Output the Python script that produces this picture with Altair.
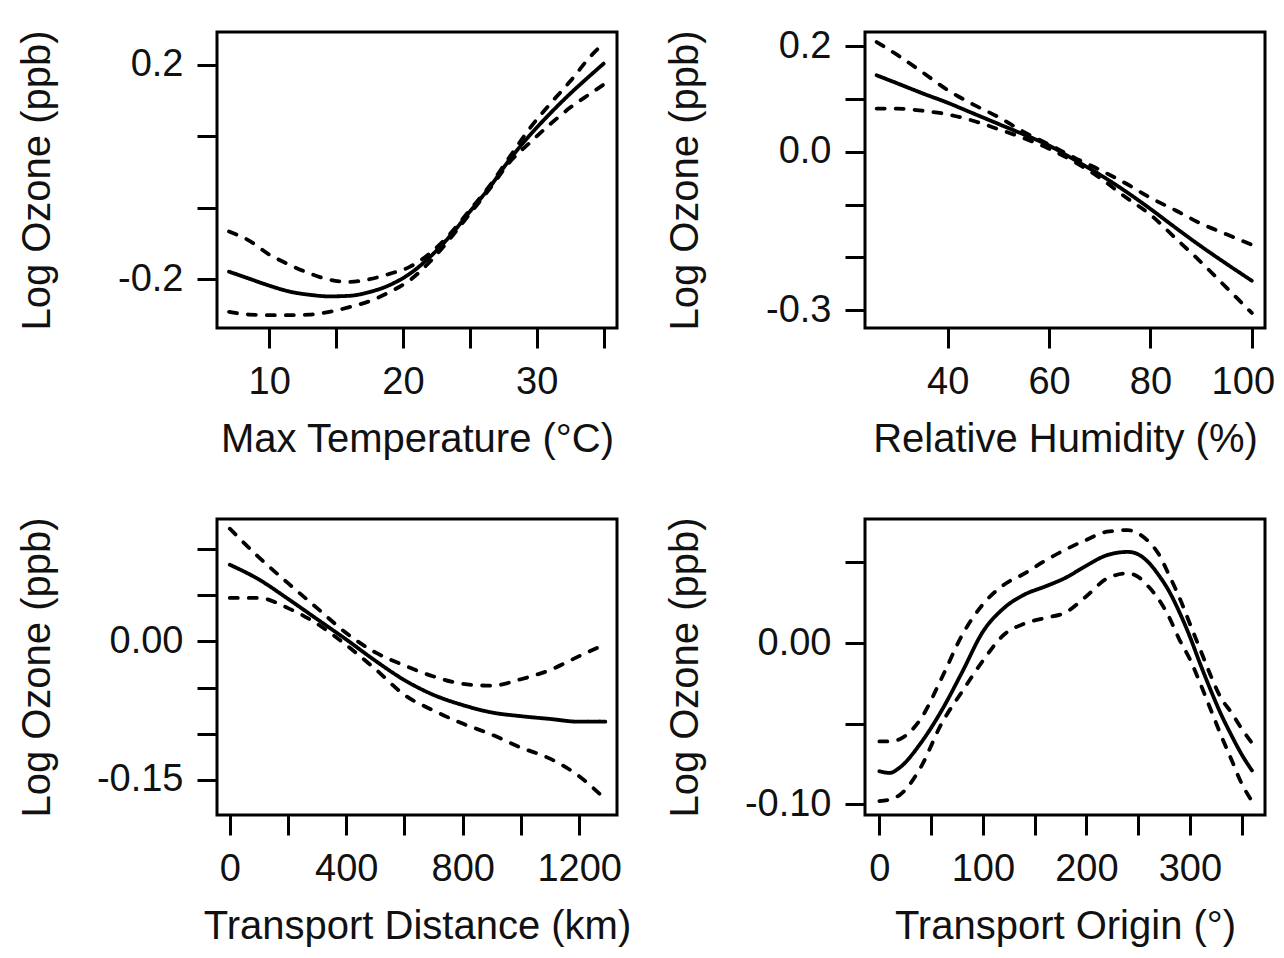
import altair as alt
import pandas as pd

FONT = "Liberation Sans"
YTITLE = "Log Ozone (ppb)"

# ---- Panel 1: Max Temperature ----
temp_x = [7, 8.5, 10, 11.5, 13, 14.5, 16, 17.5, 19, 20.5, 22, 23.5, 25, 26.5, 28, 29.5, 31, 32.5, 34, 35]
temp_fit = [-0.186, -0.199, -0.212, -0.223, -0.229, -0.232, -0.231, -0.224, -0.211, -0.190, -0.159, -0.120,
            -0.074, -0.028, 0.024, 0.069, 0.109, 0.146, 0.180, 0.202]
temp_upper = [-0.111, -0.128, -0.154, -0.173, -0.189, -0.201, -0.205, -0.200, -0.190, -0.177, -0.152, -0.116,
              -0.071, -0.025, 0.029, 0.082, 0.127, 0.169, 0.215, 0.240]
temp_lower = [-0.261, -0.266, -0.267, -0.267, -0.266, -0.261, -0.252, -0.241, -0.224, -0.202, -0.168, -0.125,
              -0.078, -0.031, 0.019, 0.055, 0.089, 0.120, 0.146, 0.163]
temp_xticks = [10, 15, 20, 25, 30, 35]
temp_xlabels = ["10", "", "20", "", "30", ""]
temp_yticks = [0.2, 0.2 - 0.4 / 3, -0.2 + 0.4 / 3, -0.2]
temp_ylabels = ["0.2", "", "", "-0.2"]

# ---- Panel 2: Relative Humidity ----
rh_x = [26, 30, 35, 40, 45, 50, 55, 60, 65, 70, 75, 80, 85, 90, 95, 100]
rh_fit = [0.145, 0.130, 0.111, 0.093, 0.073, 0.053, 0.033, 0.012, -0.015, -0.043, -0.074, -0.108,
          -0.144, -0.179, -0.212, -0.244]
rh_upper = [0.208, 0.184, 0.151, 0.117, 0.090, 0.066, 0.038, 0.014, -0.011, -0.034, -0.059, -0.087,
            -0.111, -0.136, -0.156, -0.176]
rh_lower = [0.082, 0.082, 0.078, 0.071, 0.059, 0.043, 0.026, 0.006, -0.019, -0.049, -0.085, -0.119,
            -0.164, -0.209, -0.257, -0.305]
rh_xticks = [40, 60, 80, 100]
rh_xlabels = ["40", "60", "80", "100"]
rh_yticks = [0.2, 0.1, 0.0, -0.1, -0.2, -0.3]
rh_ylabels = ["0.2", "", "0.0", "", "", "-0.3"]

# ---- Panel 3: Transport Distance ----
td_x = [0, 100, 200, 300, 400, 500, 600, 700, 800, 900, 1000, 1100, 1200, 1290]
td_fit = [0.083, 0.067, 0.046, 0.024, 0.002, -0.021, -0.042, -0.058, -0.069, -0.077, -0.081, -0.084,
          -0.087, -0.087]
td_upper = [0.122, 0.091, 0.063, 0.036, 0.009, -0.012, -0.026, -0.038, -0.046, -0.048, -0.041, -0.031,
            -0.016, -0.003]
td_lower = [0.047, 0.047, 0.036, 0.019, -0.004, -0.030, -0.058, -0.075, -0.089, -0.101, -0.115, -0.127,
            -0.146, -0.171]
td_xticks = [0, 200, 400, 600, 800, 1000, 1200]
td_xlabels = ["0", "", "400", "", "800", "", "1200"]
td_yticks = [0.10, 0.05, 0.0, -0.05, -0.10, -0.15]
td_ylabels = ["", "", "0.00", "", "", "-0.15"]

# ---- Panel 4: Transport Origin ----
to_x = [0, 10, 20, 40, 60, 80, 100, 120, 140, 160, 180, 200, 220, 240, 250, 260, 270, 280, 290, 300,
        310, 320, 330, 340, 350, 360]
to_fit = [-0.0795, -0.0805, -0.077, -0.062, -0.042, -0.018, 0.007, 0.0215, 0.030, 0.035, 0.0405, 0.048,
          0.0545, 0.0565, 0.055, 0.050, 0.042, 0.032, 0.019, 0.004, -0.013, -0.029, -0.044, -0.057,
          -0.069, -0.079]
to_upper = [-0.061, -0.061, -0.0595, -0.047, -0.022, 0.005, 0.024, 0.036, 0.043, 0.051, 0.058, 0.064,
            0.069, 0.070, 0.068, 0.063, 0.055, 0.042, 0.028, 0.012, -0.004, -0.020, -0.034, -0.043,
            -0.053, -0.062]
to_lower = [-0.098, -0.097, -0.094, -0.077, -0.050, -0.030, -0.011, 0.005, 0.012, 0.0155, 0.019, 0.029,
            0.040, 0.0432, 0.041, 0.035, 0.027, 0.016, 0.002, -0.010, -0.025, -0.041, -0.057, -0.072,
            -0.087, -0.098]
to_xticks = [0, 50, 100, 150, 200, 250, 300, 350]
to_xlabels = ["0", "", "100", "", "200", "", "300", ""]
to_yticks = [0.05, 0.0, -0.05, -0.10]
to_ylabels = ["", "0.00", "", "-0.10"]


def label_expr(values, labels):
    expr = "''"
    for v, l in reversed(list(zip(values, labels))):
        if l:
            expr = f"(abs(datum.value - ({v!r})) < 1e-6 ? '{l}' : {expr})"
    return expr


def panel(x, fit, upper, lower, xdom, ydom, xticks, xlabels, yticks, ylabels, xtitle, last_label_shift=0):
    df = pd.DataFrame({"x": x, "fit": fit, "upper": upper, "lower": lower})
    xaxis_kw = dict(values=xticks, labelExpr=label_expr(xticks, xlabels), title=xtitle)
    if last_label_shift:
        xaxis_kw["labelOffset"] = {
            "condition": {"test": f"datum.value === {xticks[-1]}", "value": last_label_shift},
            "value": 0,
        }
    return (
        alt.Chart(df)
        .transform_fold(["fit", "upper", "lower"], as_=["band", "val"])
        .mark_line(color="black", strokeWidth=3.8, strokeCap="round", interpolate="monotone", clip=True)
        .encode(
            x=alt.X(
                "x:Q",
                scale=alt.Scale(domain=xdom, nice=False, zero=False),
                axis=alt.Axis(**xaxis_kw),
            ),
            y=alt.Y(
                "val:Q",
                scale=alt.Scale(domain=ydom, nice=False, zero=False),
                axis=alt.Axis(
                    values=yticks,
                    labelExpr=label_expr(yticks, ylabels),
                    title=YTITLE,
                    titleX=-180,
                    titleBaseline="middle",
                ),
            ),
            strokeDash=alt.StrokeDash(
                "band:N",
                scale=alt.Scale(domain=["fit", "upper", "lower"], range=[[1, 0], [8, 11], [8, 11]]),
                legend=None,
            ),
            detail="band:N",
        )
        .properties(width=400, height=296)
    )


p1 = panel(temp_x, temp_fit, temp_upper, temp_lower, [6.1, 36.0], [-0.291, 0.261],
           temp_xticks, temp_xlabels, temp_yticks, temp_ylabels, "Max Temperature (°C)")
p2 = panel(rh_x, rh_fit, rh_upper, rh_lower, [23.7, 102.6], [-0.3335, 0.227],
           rh_xticks, rh_xlabels, rh_yticks, rh_ylabels, "Relative Humidity (%)", last_label_shift=-9)
p3 = panel(td_x, td_fit, td_upper, td_lower, [-44, 1330], [-0.188, 0.1325],
           td_xticks, td_xlabels, td_yticks, td_ylabels, "Transport Distance (km)")
p4 = panel(to_x, to_fit, to_upper, to_lower, [-13.9, 372.6], [-0.1066, 0.0769],
           to_xticks, to_xlabels, to_yticks, to_ylabels, "Transport Origin (°)")

chart = (
    alt.concat(p1, p2, p3, p4, columns=2, spacing={"row": 191, "column": 248}, bounds="flush")
    .properties(
        autosize=alt.AutoSizeParams(type="none"),
        padding={"left": 209, "top": 24, "right": 1059, "bottom": 918},
        background="white",
    )
    .configure_view(stroke="black", strokeWidth=3)
    .configure_axis(
        domain=False,
        grid=False,
        tickSize=20,
        tickWidth=3,
        tickColor="black",
        labelFont=FONT,
        labelFontSize=38,
        labelColor="#111111",
        titleFont=FONT,
        titleFontSize=40,
        titleFontWeight="normal",
        titleColor="#111111",
        labelOverlap=False,
        labelFlush=False,
    )
    .configure_axisX(labelPadding=15, titlePadding=18)
    .configure_axisY(labelPadding=14)
)

chart.save("out.html", embed_options={"renderer": "svg", "actions": False})
